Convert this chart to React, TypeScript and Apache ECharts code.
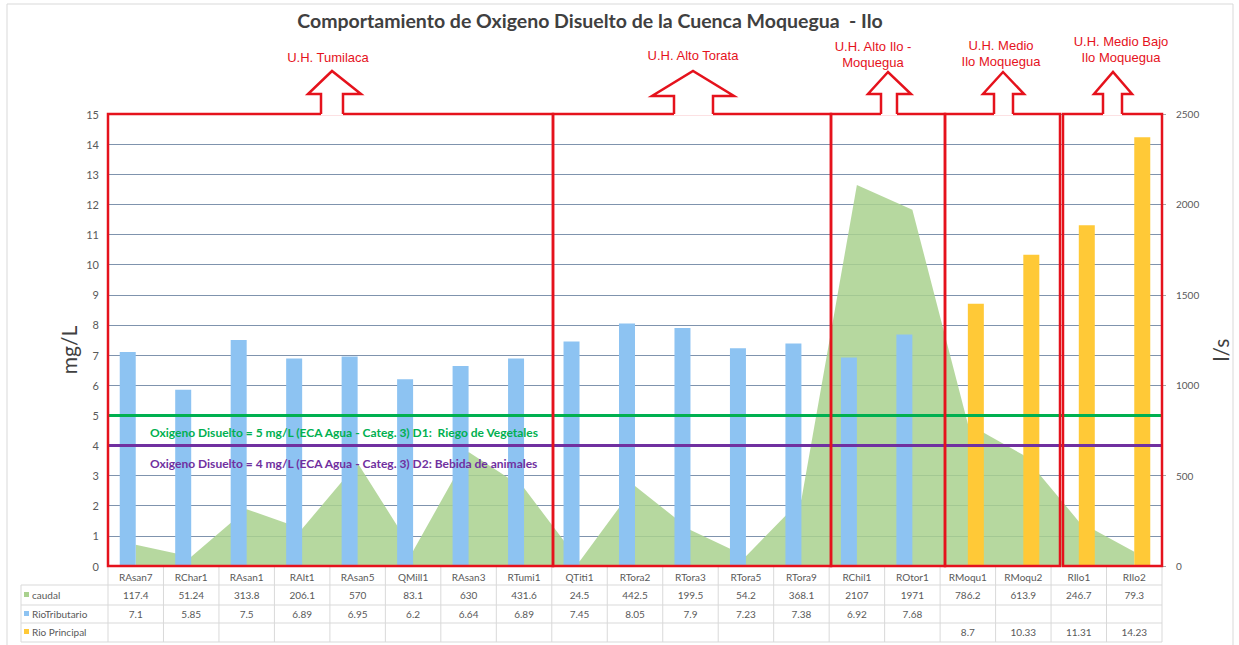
import React, { useEffect, useRef } from "react";
import * as echarts from "echarts";

const categories = ["RAsan7","RChar1","RAsan1","RAlt1","RAsan5","QMill1","RAsan3","RTumi1","QTiti1","RTora2","RTora3","RTora5","RTora9","RChil1","ROtor1","RMoqu1","RMoqu2","RIlo1","RIlo2"];
const caudal = [117.4,51.24,313.8,206.1,570,83.1,630,431.6,24.5,442.5,199.5,54.2,368.1,2107,1971,786.2,613.9,246.7,79.3];
const rioTributario = [7.1,5.85,7.5,6.89,6.95,6.2,6.64,6.89,7.45,8.05,7.9,7.23,7.38,6.92,7.68,null,null,null,null];
const rioPrincipal = [null,null,null,null,null,null,null,null,null,null,null,null,null,null,null,8.7,10.33,11.31,14.23];
const limitD1 = 5;
const limitD2 = 4;
const labelD1 = "Oxigeno Disuelto = 5 mg/L (ECA Agua - Categ. 3) D1:  Riego de Vegetales";
const labelD2 = "Oxigeno Disuelto = 4 mg/L (ECA Agua - Categ. 3) D2: Bebida de animales";
const seriesNames = ["caudal", "RioTributario", "Rio Principal"];
const regions = [
  { lines: ["U.H. Tumilaca"] },
  { lines: ["U.H. Alto Torata"] },
  { lines: ["U.H. Alto Ilo -", "Moquegua"] },
  { lines: ["U.H. Medio", "Ilo Moquegua"] },
  { lines: ["U.H. Medio Bajo", "Ilo Moquegua"] },
];

const GL = 108, GR = 1162, GT = 114, GB = 566;
const RED = "#E5121C";
const C_AREA = "#A9D18E", C_BLUE = "#8DC3F2", C_YEL = "#FFC937";

// decoration geometry (boxes & arrows)
const boxes = [
  { x0: 108, x1: 553, tip: 332, hl: 308, hr: 361, sl: 321, sr: 343, hb: 94, ty: 71, tx: 328, ly: 57 },
  { x0: 553, x1: 831, tip: 693, hl: 652, hr: 734, sl: 674, sr: 713, hb: 96, ty: 71, tx: 693, ly: 55 },
  { x0: 831, x1: 945, tip: 888, hl: 868, hr: 911, sl: 881, sr: 897, hb: 94, ty: 72, tx: 873, ly: 46 },
  { x0: 945, x1: 1060, tip: 1003, hl: 983, hr: 1024, sl: 994, sr: 1013, hb: 94, ty: 72, tx: 1001, ly: 45 },
  { x0: 1063, x1: 1162, tip: 1113, hl: 1094, hr: 1132, sl: 1103, sr: 1122, hb: 94, ty: 72, tx: 1121, ly: 41 },
];

export default function App() {
  const ref = useRef<HTMLDivElement>(null);
  useEffect(() => {
    if (!ref.current) return;
    const chart = echarts.init(ref.current, null, { renderer: "svg" });
    const catW = (GR - GL) / categories.length;
    const cx = (i: number) => GL + catW * (i + 0.5);
    const fmt = (v: number | null) => (v === null || v === undefined ? "" : String(v));
    const tf = "Lato, 'Open Sans', sans-serif";
    const graphic: any[] = [];
    graphic.push({ type: "rect", z: 0, shape: { x: 7, y: 4, width: 1226, height: 660 }, style: { fill: "none", stroke: "#D9D9D9", lineWidth: 1 } });
    graphic.push({ type: "text", z: 100, x: 590, y: 20, style: { text: "Comportamiento de Oxigeno Disuelto de la Cuenca Moquegua  - Ilo", font: `bold 19.5px ${tf}`, fill: "#404040", align: "center", verticalAlign: "middle" } });
    graphic.push({ type: "text", z: 100, x: 68, y: 350, rotation: Math.PI / 2, style: { text: "mg/L", font: `21px ${tf}`, fill: "#404040", align: "center", verticalAlign: "middle" } });
    graphic.push({ type: "text", z: 100, x: 1220, y: 350, rotation: Math.PI / 2, style: { text: "l/s", font: `21px ${tf}`, fill: "#404040", align: "center", verticalAlign: "middle" } });
    graphic.push({ type: "text", z: 100, x: 150, y: 432, style: { text: labelD1, font: `bold 12px ${tf}`, fill: "#00B050", verticalAlign: "middle" } });
    graphic.push({ type: "text", z: 100, x: 150, y: 463, style: { text: labelD2, font: `bold 12px ${tf}`, fill: "#7030A0", verticalAlign: "middle" } });
    const rowLines = [585, 605, 623, 642];
    const tableStroke = "#D9D9D9";
    rowLines.forEach((y) => graphic.push({ type: "line", z: 50, shape: { x1: 21, y1: y, x2: GR, y2: y }, style: { stroke: tableStroke, lineWidth: 1 } }));
    graphic.push({ type: "line", z: 50, shape: { x1: 21, y1: 585, x2: 21, y2: 642 }, style: { stroke: tableStroke, lineWidth: 1 } });
    for (let i = 0; i <= categories.length; i++) {
      const x = GL + catW * i;
      graphic.push({ type: "line", z: 50, shape: { x1: x, y1: GB, x2: x, y2: 642 }, style: { stroke: tableStroke, lineWidth: 1 } });
    }
    const rowY = [595, 614, 632];
    const rowColors = [C_AREA, C_BLUE, C_YEL];
    const rowData = [caudal, rioTributario, rioPrincipal];
    seriesNames.forEach((n, r) => {
      graphic.push({ type: "rect", z: 60, shape: { x: 24, y: rowY[r] - 3, width: 5, height: 5 }, style: { fill: rowColors[r] } });
      graphic.push({ type: "text", z: 60, x: 32, y: rowY[r], style: { text: n, font: `10px ${tf}`, fill: "#595959", verticalAlign: "middle" } });
      rowData[r].forEach((v, i) => {
        graphic.push({ type: "text", z: 60, x: cx(i), y: rowY[r], style: { text: fmt(v as any), font: `10px ${tf}`, fill: "#595959", align: "center", verticalAlign: "middle" } });
      });
    });
    boxes.forEach((b, k) => {
      graphic.push({ type: "rect", z: 200, shape: { x: b.x0, y: GT, width: b.x1 - b.x0, height: GB - GT }, style: { fill: "none", stroke: RED, lineWidth: 2.5 } });
      const pts = [[b.sl, GT + 1.5], [b.sl, b.hb], [b.hl, b.hb], [b.tip, b.ty], [b.hr, b.hb], [b.sr, b.hb], [b.sr, GT + 1.5]];
      graphic.push({ type: "polygon", z: 201, shape: { points: pts.map((p) => [p[0], p[1]]) }, style: { fill: "#ffffff", stroke: "none" } });
      graphic.push({ type: "polyline", z: 202, shape: { points: pts.map((p, j) => (j === 0 || j === pts.length - 1 ? [p[0], GT] : p)) }, style: { stroke: RED, lineWidth: 2.5, fill: "none" } });
      regions[k].lines.forEach((t, j) => {
        graphic.push({ type: "text", z: 202, x: b.tx, y: b.ly + j * 16, style: { text: t, font: `13px 'Liberation Sans', Arial, sans-serif`, fill: RED, align: "center", verticalAlign: "middle" } });
      });
    });

    chart.setOption({
      animation: false,
      grid: { left: GL, right: 1239 - GR, top: GT, bottom: 645 - GB },
      xAxis: {
        type: "category",
        data: categories,
        boundaryGap: true,
        axisLine: { show: true, lineStyle: { color: "#D9D9D9" } },
        axisTick: { show: false },
        axisLabel: { fontSize: 10, color: "#595959", margin: 6, fontFamily: tf, interval: 0 },
      },
      yAxis: [
        {
          type: "value", min: 0, max: 15, interval: 1,
          axisLine: { show: false }, axisTick: { show: false },
          axisLabel: { fontSize: 11, color: "#595959", margin: 9, fontFamily: tf },
          splitLine: { show: true, lineStyle: { color: "#7F93AD", width: 1.2 } },
        },
        {
          type: "value", min: 0, max: 2500, interval: 500,
          axisLine: { show: false }, axisTick: { show: true, length: 4, lineStyle: { color: "#A6A6A6" } },
          axisLabel: { fontSize: 10, color: "#595959", margin: 14, fontFamily: tf, formatter: (v: number) => String(v) },
          splitLine: { show: false },
        },
      ],
      series: [
        {
          name: seriesNames[0], type: "line", yAxisIndex: 1, data: caudal, symbol: "none",
          lineStyle: { width: 0 }, areaStyle: { color: C_AREA, opacity: 0.85 }, z: 1,
        },
        {
          name: seriesNames[1], type: "bar", data: rioTributario, barWidth: 16, barGap: "0%",
          itemStyle: { color: C_BLUE }, z: 3,
        },
        {
          name: seriesNames[2], type: "bar", data: rioPrincipal, barWidth: 16, barGap: "0%",
          itemStyle: { color: C_YEL }, z: 3,
          markLine: {
            silent: true, symbol: "none", label: { show: false },
            data: [
              { yAxis: limitD1, lineStyle: { color: "#00B050", width: 3, type: "solid" } },
              { yAxis: limitD2, lineStyle: { color: "#7030A0", width: 3, type: "solid" } },
            ],
          },
        },
      ],
      graphic,
    });
    return () => chart.dispose();
  }, []);
  return <div ref={ref} style={{ width: 1239, height: 645, position: "absolute", left: 0, top: 0 }} />;
}
